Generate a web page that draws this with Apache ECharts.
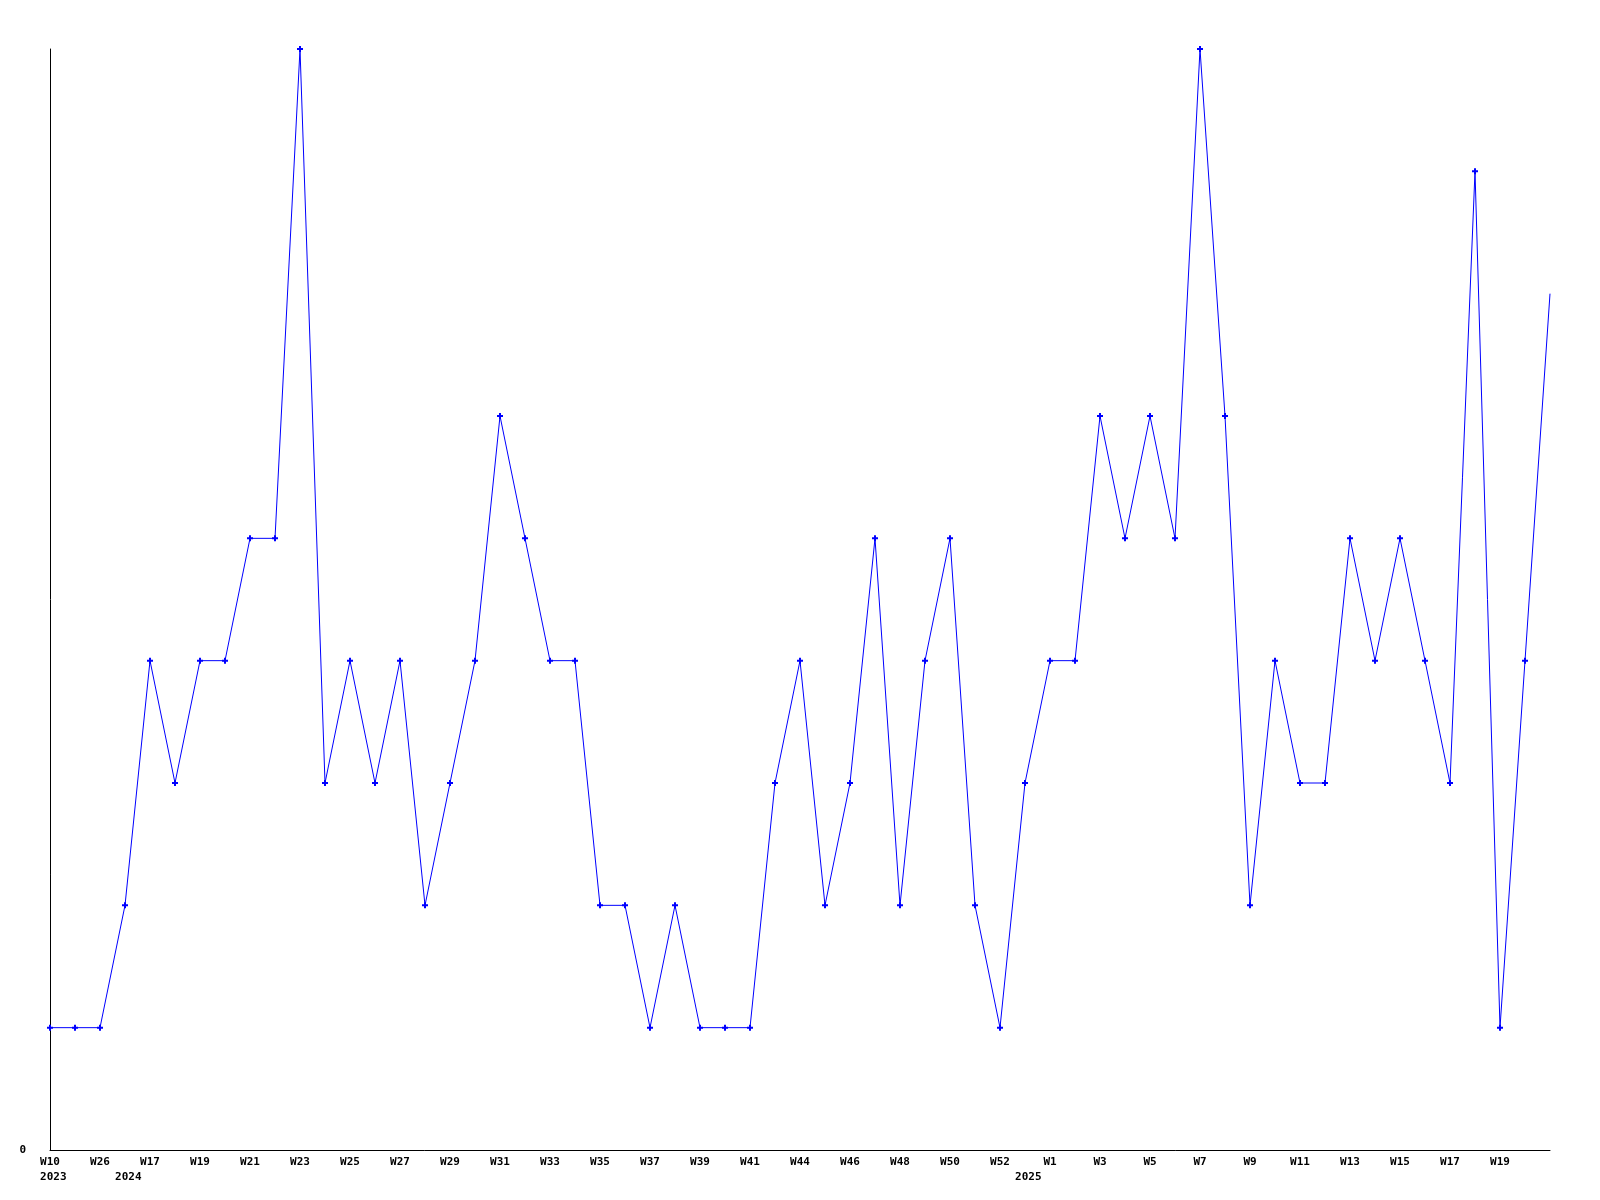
<!DOCTYPE html>
<html>
<head>
<meta charset="utf-8">
<script src="https://cdn.jsdelivr.net/npm/echarts@6/dist/echarts.min.js"></script>
<style>
  html, body { margin: 0; padding: 0; background: #ffffff; }
  #chart { width: 1600px; height: 1200px; }
</style>
</head>
<body>
<div id="chart"></div>
<script>
// Week categories (only even indices are labelled on the axis)
var weekLabels = [
  'W10','W18','W26','W16','W17','W18','W19','W20','W21','W22',
  'W23','W24','W25','W26','W27','W28','W29','W30','W31','W32',
  'W33','W34','W35','W36','W37','W38','W39','W40','W41','W42',
  'W44','W45','W46','W47','W48','W49','W50','W51','W52','W53',
  'W1','W2','W3','W4','W5','W6','W7','W8','W9','W10',
  'W11','W12','W13','W14','W15','W16','W17','W18','W19','W20',
  'W21'
];
// Year marks (second label row)
var yearLabels = {0: '2023', 3: '2024', 39: '2025'};
// Series values
var values = [
  1,1,1,2,4,3,4,4,5,5,
  9,3,4,3,4,2,3,4,6,5,
  4,4,2,2,1,2,1,1,1,3,
  4,2,3,5,2,4,5,2,1,3,
  4,4,6,5,6,5,9,6,2,4,
  3,3,5,4,5,4,3,8,1,4,
  7
];
var yTickLabels = ['0'];

var yearCats = weekLabels.map(function (w, i) { return yearLabels[i] ? (' ' + yearLabels[i]) : ''; });
var yearCatsKeys = weekLabels.map(function (w, i) { return 'y' + i; });

var font = { fontFamily: 'DejaVu Sans Mono', fontWeight: 'bold', fontSize: 11, color: '#000000' };
var lastIdx = values.length - 1;

var chart = echarts.init(document.getElementById('chart'), null, { renderer: 'canvas' });
chart.setOption({
  animation: false,
  backgroundColor: '#ffffff',
  grid: { left: 50, right: 50, top: 49, bottom: 50, containLabel: false },
  xAxis: [
    {
      type: 'category',
      data: weekLabels,
      boundaryGap: false,
      axisLine: { show: true, lineStyle: { color: '#000000', width: 1 } },
      axisTick: { show: false },
      splitLine: { show: false },
      axisLabel: Object.assign({
        interval: function (i) { return i % 2 === 0 && i < lastIdx; },
        margin: 7
      }, font)
    },
    {
      type: 'category',
      data: yearCatsKeys,
      position: 'bottom',
      boundaryGap: false,
      axisLine: { show: false },
      axisTick: { show: false },
      splitLine: { show: false },
      axisLabel: Object.assign({
        interval: 0, margin: 22,
        formatter: function (v, i) { return yearCats[i]; }
      }, font)
    }
  ],
  yAxis: {
    type: 'value',
    min: 0,
    max: 9,
    interval: 1,
    axisLine: { show: true, lineStyle: { color: '#000000', width: 1 } },
    axisTick: { show: false },
    splitLine: { show: false },
    axisLabel: Object.assign({
      margin: 24,
      formatter: function (v) { return v === 0 ? yTickLabels[0] : ''; }
    }, font)
  },
  series: [{
    type: 'line',
    data: values,
    xAxisIndex: 0,
    showSymbol: true,
    showAllSymbol: true,
    symbol: function (val, params) {
      return params.dataIndex === lastIdx ? 'none' : 'path://M2,0H4V2H6V4H4V6H2V4H0V2H2Z';
    },
    symbolSize: 6,
    lineStyle: { color: '#0000ff', width: 1 },
    itemStyle: { color: '#0000ff', borderWidth: 0 },
    clip: false
  }]
});
</script>
</body>
</html>
